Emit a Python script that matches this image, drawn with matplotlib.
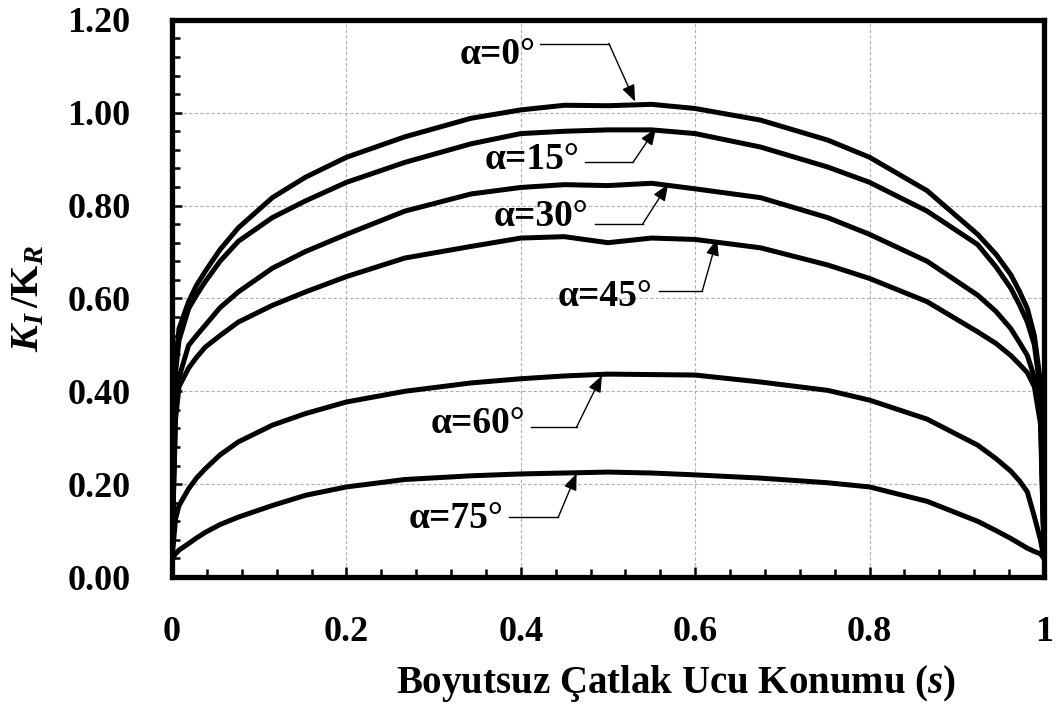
import matplotlib
matplotlib.use("Agg")
import matplotlib.pyplot as plt
from matplotlib.ticker import MultipleLocator, FixedLocator

plt.rcParams['font.family'] = ['Liberation Serif', 'DejaVu Serif']
plt.rcParams['font.weight'] = 'bold'
plt.rcParams['mathtext.fontset'] = 'custom'
plt.rcParams['mathtext.rm'] = 'Liberation Serif:bold'
plt.rcParams['mathtext.it'] = 'Liberation Serif:italic:bold'
plt.rcParams['mathtext.bf'] = 'Liberation Serif:bold'

# ---- data ----
s = [0.0, 0.004, 0.008, 0.019, 0.028, 0.038, 0.055, 0.076, 0.115, 0.153, 0.2, 0.267, 0.343,
     0.4, 0.45, 0.5, 0.55, 0.6, 0.675, 0.752, 0.8, 0.866, 0.924, 0.945, 0.962, 0.972, 0.981,
     0.989, 0.996, 1.0]

k_a0 = [0.06, 0.46, 0.535, 0.593, 0.628, 0.658, 0.705, 0.752, 0.817, 0.861, 0.904, 0.948, 0.988,
        1.006, 1.016, 1.015, 1.018, 1.009, 0.984, 0.941, 0.904, 0.832, 0.738, 0.695, 0.651, 0.615,
        0.578, 0.52, 0.42, 0.06]
k_a15 = [0.06, 0.44, 0.51, 0.578, 0.607, 0.636, 0.68, 0.723, 0.774, 0.81, 0.85, 0.893, 0.933,
         0.955, 0.960, 0.963, 0.963, 0.955, 0.926, 0.883, 0.85, 0.788, 0.716, 0.668, 0.622, 0.586,
         0.549, 0.50, 0.40, 0.06]
k_a30 = [0.06, 0.36, 0.43, 0.499, 0.52, 0.542, 0.58, 0.614, 0.665, 0.701, 0.738, 0.788, 0.825,
         0.839, 0.845, 0.843, 0.848, 0.836, 0.817, 0.774, 0.738, 0.68, 0.607, 0.572, 0.535, 0.505,
         0.477, 0.43, 0.36, 0.06]
k_a45 = [0.06, 0.34, 0.41, 0.45, 0.473, 0.495, 0.52, 0.549, 0.585, 0.614, 0.647, 0.687, 0.712,
         0.73, 0.733, 0.72, 0.73, 0.727, 0.709, 0.672, 0.643, 0.593, 0.528, 0.503, 0.477, 0.458,
         0.44, 0.41, 0.33, 0.06]
k_a60 = [0.04, 0.125, 0.154, 0.19, 0.213, 0.233, 0.263, 0.291, 0.327, 0.352, 0.377, 0.40, 0.418,
         0.427, 0.433, 0.437, 0.436, 0.435, 0.42, 0.402, 0.381, 0.34, 0.284, 0.255, 0.228, 0.207,
         0.183, 0.13, 0.08, 0.04]
k_a75 = [0.04, 0.05, 0.058, 0.072, 0.084, 0.096, 0.113, 0.129, 0.154, 0.176, 0.194, 0.21, 0.218,
         0.222, 0.224, 0.226, 0.224, 0.22, 0.213, 0.203, 0.194, 0.163, 0.12, 0.10, 0.083, 0.072,
         0.062, 0.055, 0.05, 0.04]

series = [k_a0, k_a15, k_a30, k_a45, k_a60, k_a75]
labels = ['α=0°', 'α=15°', 'α=30°', 'α=45°', 'α=60°', 'α=75°']

x_ticks = [0, 0.2, 0.4, 0.6, 0.8, 1.0]
x_ticklabels = ['0', '0.2', '0.4', '0.6', '0.8', '1']
y_ticks = [0.0, 0.2, 0.4, 0.6, 0.8, 1.0, 1.2]
y_ticklabels = ['0.00', '0.20', '0.40', '0.60', '0.80', '1.00', '1.20']

# annotation layout: text position, elbow start, elbow corner, arrow tip (data coords)
ann = [
    ((0.373, 1.125), (0.422, 1.149), (0.501, 1.149), (0.531, 1.024)),
    ((0.413, 0.899), (0.474, 0.894), (0.529, 0.894), (0.555, 0.966)),
    ((0.423, 0.776), (0.485, 0.761), (0.540, 0.761), (0.569, 0.846)),
    ((0.497, 0.604), (0.558, 0.615), (0.608, 0.615), (0.625, 0.728)),
    ((0.351, 0.330), (0.412, 0.323), (0.464, 0.323), (0.493, 0.434)),
    ((0.326, 0.125), (0.386, 0.129), (0.443, 0.129), (0.464, 0.223)),
]

fig = plt.figure(figsize=(10.62, 7.08), dpi=100)
ax = fig.add_axes([0.162, 0.185, 0.821, 0.787])

for k in series:
    ax.plot(s, k, color='black', lw=3.6, solid_capstyle='round', solid_joinstyle='round', zorder=3)

for lab, (tpos, p0, p1, tip) in zip(labels, ann):
    ax.text(tpos[0], tpos[1], lab, ha='center', va='center', fontsize=27,
            fontweight='bold', zorder=5)
    ax.plot([p0[0], p1[0]], [p0[1], p1[1]], color='black', lw=1.0, zorder=4)
    ax.annotate('', xy=tip, xytext=p1,
                arrowprops=dict(arrowstyle='-|>,head_length=1.0,head_width=0.4',
                                color='black', lw=1.0, shrinkA=0, shrinkB=0),
                zorder=4)

ax.set_xlim(0, 1)
ax.set_ylim(0, 1.2)
ax.xaxis.set_major_locator(FixedLocator(x_ticks))
ax.yaxis.set_major_locator(FixedLocator(y_ticks))
ax.set_xticklabels(x_ticklabels)
ax.set_yticklabels(y_ticklabels)
ax.xaxis.set_minor_locator(MultipleLocator(0.04))
ax.yaxis.set_minor_locator(MultipleLocator(0.04))

ax.tick_params(which='both', direction='in', width=1.8, color='black')
ax.tick_params(which='major', length=7.5, labelsize=26)
ax.tick_params(which='minor', length=6)
ax.tick_params(axis='y', which='major', pad=30)
ax.tick_params(axis='x', which='major', pad=28)
for lbl in ax.get_xticklabels() + ax.get_yticklabels():
    lbl.set_fontweight('bold')

for sp in ax.spines.values():
    sp.set_linewidth(3.8)
    sp.set_color('black')

ax.grid(True, which='major', linestyle=(0, (3, 2)), color='#b0b0b0', lw=0.8)
ax.set_axisbelow(True)

ax.set_xlabel('Boyutsuz Çatlak Ucu Konumu ($s$)', fontsize=28, fontweight='bold')
ax.xaxis.set_label_coords(0.578, -0.155)
ax.set_ylabel(r'$K_I\,$/$\mathrm{K}_R$', fontsize=29, fontweight='bold')
ax.yaxis.set_label_coords(-0.143, 0.5)

fig.savefig('out.png', dpi=100)
